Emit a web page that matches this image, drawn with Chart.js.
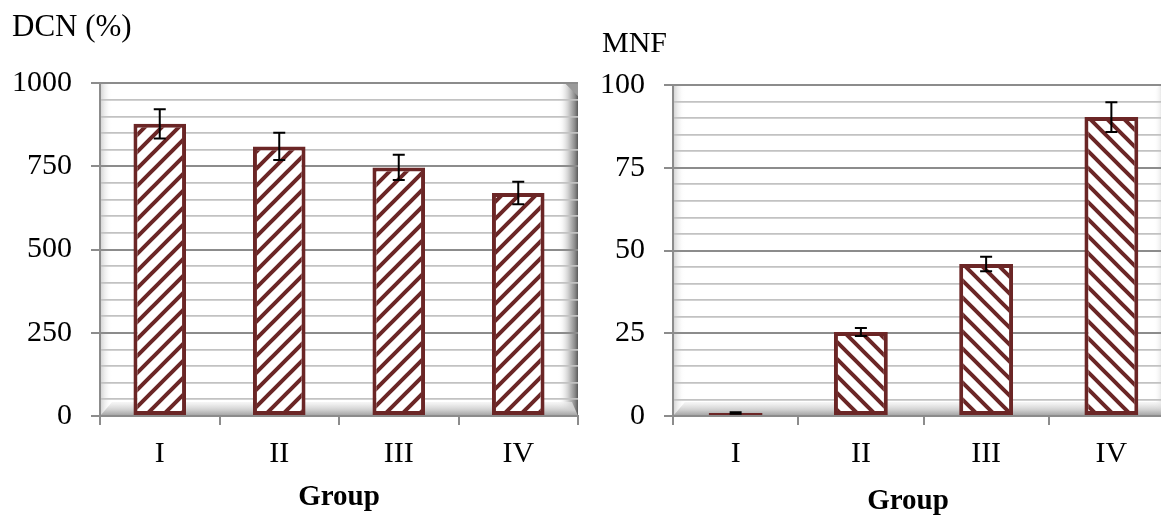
<!DOCTYPE html>
<html><head><meta charset="utf-8">
<script src="https://cdn.jsdelivr.net/npm/chart.js@4.4.0/dist/chart.umd.min.js"></script>
<style>
html,body{margin:0;padding:0;background:#fff;overflow:hidden;width:1161px;height:516px;position:relative;}
#c1{position:absolute;left:0;top:0;}
#c2{position:absolute;left:580px;top:0;}
</style></head><body>
<canvas id="c1" width="580" height="516"></canvas>
<canvas id="c2" width="634" height="516"></canvas>
<script>
const categories = ['I', 'II', 'III', 'IV'];
const dcnValues = [878, 810, 747, 670];
const dcnErrors = [44, 41, 38, 34];
const mnfValues = [0.9, 25.4, 45.9, 90.3];
const mnfErrors = [0.2, 1.2, 2.2, 4.5];
const dcnMajorStep = 250;
const mnfMajorStep = 25;

const MAROON = '#6b2626';
const SERIF = '"Liberation Serif", "Times New Roman", serif';
const GRID_MAJOR = '#8c8c8c';
const GRID_MINOR = '#c2c2c2';

function hatch(canvas, dir) {
  const s = 17;
  const t = document.createElement('canvas');
  t.width = s; t.height = s;
  const g = t.getContext('2d');
  g.fillStyle = '#fff'; g.fillRect(0, 0, s, s);
  g.strokeStyle = MAROON; g.lineWidth = 4;
  g.beginPath();
  if (dir === 'up') {
    g.moveTo(-3, s + 3); g.lineTo(s + 3, -3);
    g.moveTo(-3, 3); g.lineTo(3, -3);
    g.moveTo(s - 3, s + 3); g.lineTo(s + 3, s - 3);
  } else {
    g.moveTo(-3, -3); g.lineTo(s + 3, s + 3);
    g.moveTo(s - 3, -3); g.lineTo(s + 3, 3);
    g.moveTo(-3, s - 3); g.lineTo(3, s + 3);
  }
  g.stroke();
  return canvas.getContext('2d').createPattern(t, 'repeat');
}

const wallPlugin = {
  id: 'wall',
  beforeDraw(chart) {
    const {ctx, chartArea: a} = chart;
    ctx.save();
    let g = ctx.createLinearGradient(a.left, 0, a.left + 12, 0);
    g.addColorStop(0, '#cfcfcf'); g.addColorStop(1, 'rgba(255,255,255,0)');
    ctx.fillStyle = g;
    ctx.fillRect(a.left, a.top, 12, a.bottom - a.top);
    g = ctx.createLinearGradient(a.right - 20, 0, a.right, 0);
    g.addColorStop(0, 'rgba(255,255,255,0)');
    g.addColorStop(0.55, '#c8c8c8');
    g.addColorStop(0.85, '#8a8a8a');
    g.addColorStop(1, '#5a5a5a');
    ctx.fillStyle = g;
    ctx.beginPath();
    ctx.moveTo(a.right - 14, a.top);
    ctx.lineTo(a.right, a.top);
    ctx.lineTo(a.right, a.bottom);
    ctx.lineTo(a.right - 20, a.bottom);
    ctx.lineTo(a.right - 20, a.top + 6);
    ctx.closePath();
    ctx.fill();
    ctx.fillStyle = '#9a9a9a';
    ctx.beginPath();
    ctx.moveTo(a.right - 13, a.top);
    ctx.lineTo(a.right, a.top);
    ctx.lineTo(a.right, a.top + 13);
    ctx.closePath();
    ctx.fill();
    g = ctx.createLinearGradient(0, a.bottom - 14, 0, a.bottom);
    g.addColorStop(0, 'rgba(240,240,240,0.6)');
    g.addColorStop(0.6, '#cccccc');
    g.addColorStop(1, '#a0a0a0');
    ctx.fillStyle = g;
    ctx.beginPath();
    ctx.moveTo(a.left + 12, a.bottom - 14);
    ctx.lineTo(a.right - 6, a.bottom - 14);
    ctx.lineTo(a.right, a.bottom);
    ctx.lineTo(a.left, a.bottom);
    ctx.closePath();
    ctx.fill();
    ctx.restore();
  }
};

const errPlugin = {
  id: 'errBars',
  afterDatasetsDraw(chart, args, opts) {
    const errs = opts.errors || [];
    const meta = chart.getDatasetMeta(0);
    const ys = chart.scales.y;
    const vals = chart.data.datasets[0].data;
    const ctx = chart.ctx;
    ctx.save();
    ctx.strokeStyle = '#000';
    ctx.lineWidth = 2;
    meta.data.forEach((bar, i) => {
      const v = vals[i], e = errs[i];
      const yt = ys.getPixelForValue(v + e), yb = ys.getPixelForValue(v - e);
      const x = bar.x;
      ctx.beginPath();
      ctx.moveTo(x, yt); ctx.lineTo(x, yb);
      ctx.moveTo(x - 6, yt); ctx.lineTo(x + 6, yt);
      ctx.moveTo(x - 6, yb); ctx.lineTo(x + 6, yb);
      ctx.stroke();
    });
    ctx.restore();
  }
};

function yScale(max, step, major, width) {
  return {
    min: 0, max: max,
    ticks: {
      stepSize: step,
      autoSkip: false,
      padding: 19,
      color: '#000',
      font: {family: SERIF, size: 30},
      callback: v => (v % major === 0 ? String(v) : '')
    },
    grid: {
      color: c => (c.tick && c.tick.value % major === 0 ? GRID_MAJOR : GRID_MINOR),
      lineWidth: c => (c.tick && c.tick.value % major === 0 ? 2 : 1.8),
      tickColor: c => (c.tick && c.tick.value % major === 0 ? GRID_MAJOR : 'rgba(0,0,0,0)'),
      tickLength: 9
    },
    border: {color: GRID_MAJOR, width: 2},
    afterFit(s) { s.width = width; }
  };
}

function xScale(height, withTitle) {
  const o = {
    ticks: {color: '#000', font: {family: SERIF, size: 30}, padding: 11},
    grid: {offset: true, drawOnChartArea: false, tickLength: 9, color: GRID_MAJOR, lineWidth: 2},
    border: {color: GRID_MAJOR, width: 2},
    afterFit(s) { s.height = height; }
  };
  if (withTitle) {
    o.title = {display: true, text: 'Group', color: '#000',
      font: {family: SERIF, size: 29, weight: 'bold'}, padding: {top: 0, bottom: 1}};
  }
  return o;
}

const c1 = document.getElementById('c1');
new Chart(c1, {
  type: 'bar',
  data: {
    labels: categories,
    datasets: [{
      data: dcnValues,
      backgroundColor: hatch(c1, 'up'),
      borderColor: MAROON,
      borderWidth: 4,
      borderSkipped: false,
      barPercentage: 0.44,
      categoryPercentage: 1
    }]
  },
  options: {
    responsive: false,
    animation: false,
    layout: {padding: {left: 12, right: 2, top: 0, bottom: 0}},
    plugins: {
      legend: {display: false},
      tooltip: {enabled: false},
      title: {display: true, text: 'DCN (%)', align: 'start', color: '#000',
        font: {family: SERIF, size: 31, weight: 'normal'}, padding: {top: 9, bottom: 37}},
      errBars: {errors: dcnErrors}
    },
    scales: {
      x: xScale(100, true),
      y: yScale(1000, 50, dcnMajorStep, 88)
    }
  },
  plugins: [wallPlugin, errPlugin]
});

const c2 = document.getElementById('c2');
new Chart(c2, {
  type: 'bar',
  data: {
    labels: categories,
    datasets: [{
      data: mnfValues,
      backgroundColor: hatch(c2, 'down'),
      borderColor: MAROON,
      borderWidth: 4,
      borderSkipped: false,
      barPercentage: 0.43,
      categoryPercentage: 1
    }]
  },
  options: {
    responsive: false,
    animation: false,
    layout: {padding: {left: 22, right: 0, top: 0, bottom: 0}},
    plugins: {
      legend: {display: false},
      tooltip: {enabled: false},
      title: {display: true, text: 'MNF', align: 'start', color: '#000',
        font: {family: SERIF, size: 30, weight: 'normal'}, padding: {top: 26, bottom: 23}},
      subtitle: {display: true, position: 'bottom', text: 'Group', color: '#000',
        font: {family: SERIF, size: 29, weight: 'bold', lineHeight: 1.0}, padding: {top: 0, bottom: 0}},
      errBars: {errors: mnfErrors}
    },
    scales: {
      x: xScale(71, false),
      y: yScale(100, 5, mnfMajorStep, 71),
      y2: {
        position: 'right', display: true,
        grid: {display: false}, border: {display: false}, ticks: {display: false},
        afterFit(s) { s.width = 40; }
      }
    }
  },
  plugins: [wallPlugin, errPlugin]
});
</script>
</body></html>
